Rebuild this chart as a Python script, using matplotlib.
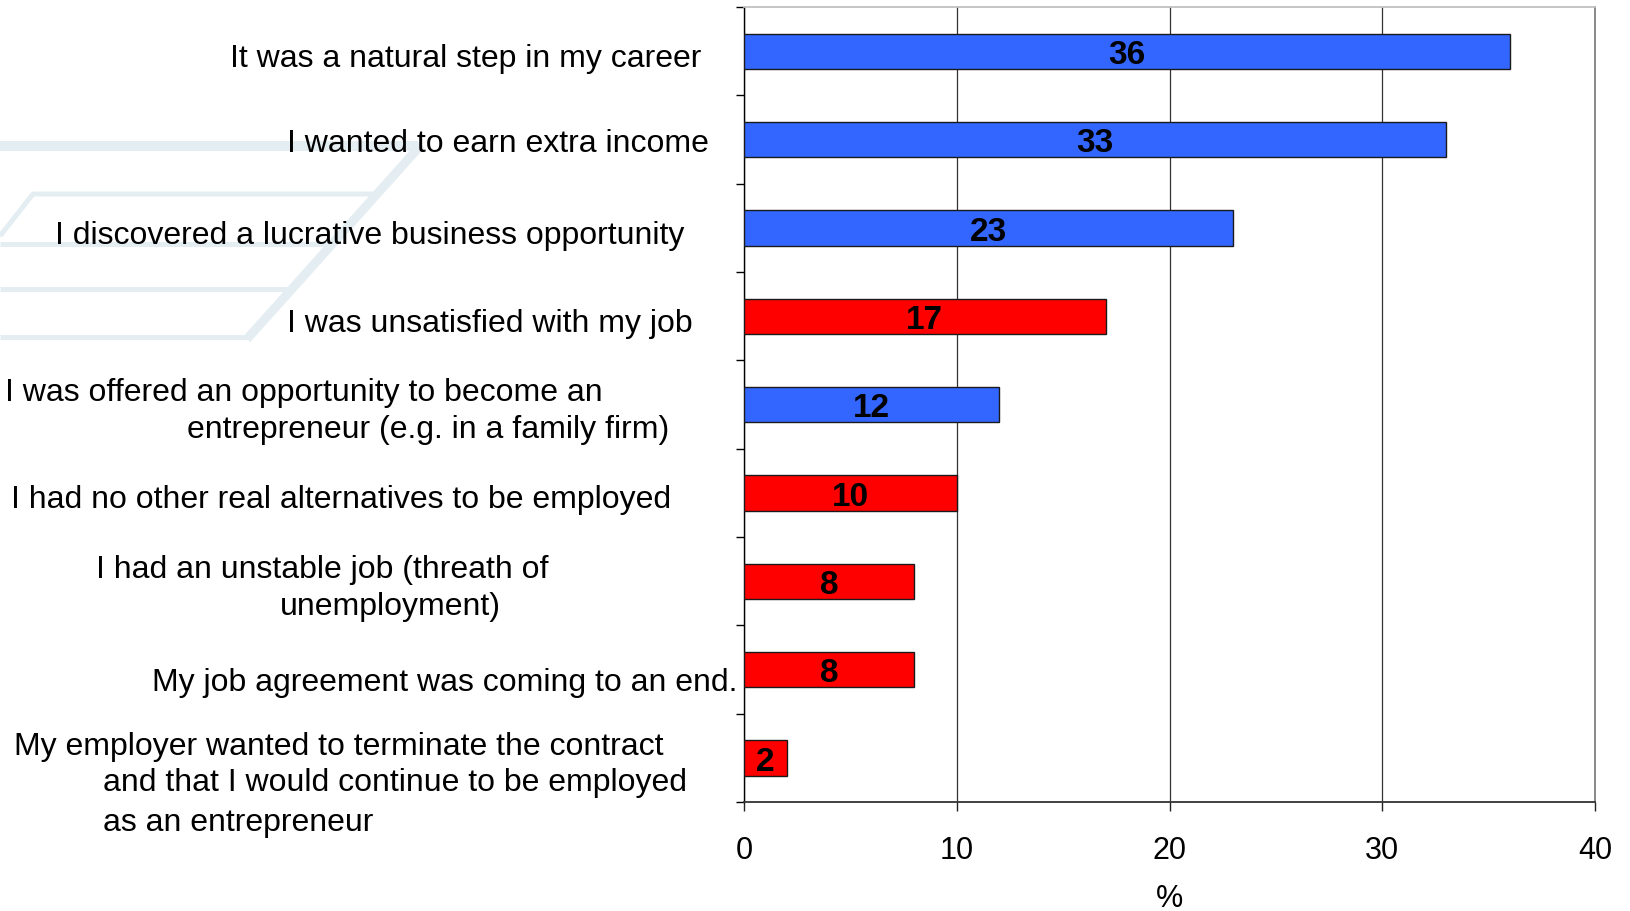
"""
Reasons for becoming an entrepreneur - horizontal bar chart
"""

import matplotlib.pyplot as plt
import numpy as np

plt.rcParams['font.family'] = ['Liberation Sans', 'DejaVu Sans']

# data
categories = [
    "It was a natural step in my career",
    "I wanted to earn extra income",
    "I discovered a lucrative business opportunity",
    "I was unsatisfied with my job",
    "I was offered an opportunity to become an\nentrepreneur (e.g. in a family firm)",
    "I had no other real alternatives to be employed",
    "I had an unstable job (threath of\nunemployment)",
    "My job agreement was coming to an end.",
    "My employer wanted to terminate the contract\nand that I would continue to be employed\nas an entrepreneur",
]
values = [36, 33, 23, 17, 12, 10, 8, 8, 2]
factor = ["pull", "pull", "pull", "push", "pull", "push", "push", "push", "push"]
x_ticks = [0, 10, 20, 30, 40]

# layout (figure pixels): left edge of each label line, vertical offset from bar centre
label_left = [[230], [287], [55], [287], [5, 187], [11], [96, 280], [152], [14, 103, 103]]
label_dy = [[3], [0], [4], [3], [-16, 21], [3], [-16, 21], [9], [-15, 21, 61]]

factor_colors = {"pull": "#3366ff", "push": "#ff0000"}
W, H = 1631, 912

fig = plt.figure(figsize=(W / 100, H / 100), dpi=100)

# background axes in pixel coordinates (watermark + labels)
bg = fig.add_axes([0, 0, 1, 1], zorder=0)
bg.set_xlim(0, W)
bg.set_ylim(H, 0)
bg.axis('off')

wm = '#e4eef2'
bg.plot([0, 418], [147, 147], color=wm, lw=7.2, solid_capstyle='butt')
bg.plot([421, 247], [146, 340], color=wm, lw=6.5, solid_capstyle='butt')
for xs, ys in [([0, 33, 375], [237, 195, 195]),
               ([0, 335], [245, 245]),
               ([0, 291], [290, 290]),
               ([0, 250], [338, 338])]:
    bg.plot(xs, ys, color=wm, lw=3.6, solid_capstyle='butt')

# main axes
ax = fig.add_axes([744 / W, 1 - 803 / H, 851 / W, 795 / H], zorder=1)
y = np.arange(len(categories))
bar_colors = [factor_colors[f] for f in factor]
ax.barh(y, values, height=0.4, color=bar_colors, edgecolor='#1a1a1a',
        linewidth=1.0, zorder=3)

for i, v in enumerate(values):
    ax.text(v / 2, i, str(v), ha='center', va='center_baseline',
            fontsize=24, fontweight='bold', color='black', zorder=4)

ax.set_xlim(0, 40)
ax.set_ylim(len(categories) - 0.5, -0.5)
ax.set_xticks(x_ticks)
ax.set_xticklabels([str(t) for t in x_ticks])
ax.set_yticks(np.arange(-0.5, len(categories), 1))
ax.set_yticklabels([])
ax.tick_params(axis='y', direction='out', length=6, width=1.0, color='black')
ax.tick_params(axis='x', direction='out', length=6.5, width=1.0, color='#222222',
               labelsize=22, pad=17)
ax.xaxis.grid(True, color='#333333', linewidth=0.9)
ax.set_axisbelow(True)
ax.spines['top'].set_color('#c0c0c0')
ax.spines['top'].set_linewidth(1.3)
ax.spines['right'].set_color('#808080')
ax.spines['right'].set_linewidth(1.3)
ax.spines['left'].set_color('black')
ax.spines['left'].set_linewidth(1.0)
ax.spines['bottom'].set_color('#333333')
ax.spines['bottom'].set_linewidth(1.3)
ax.set_xlabel('%', fontsize=22, labelpad=13)

# category labels placed relative to the bar centres
for i, cat in enumerate(categories):
    cy = H - ax.transData.transform((0, i))[1]
    for line, lx, dy in zip(cat.split('\n'), label_left[i], label_dy[i]):
        bg.text(lx, cy + dy, line, ha='left', va='center_baseline',
                fontsize=23, color='black')

fig.savefig('out.png', dpi=100)
